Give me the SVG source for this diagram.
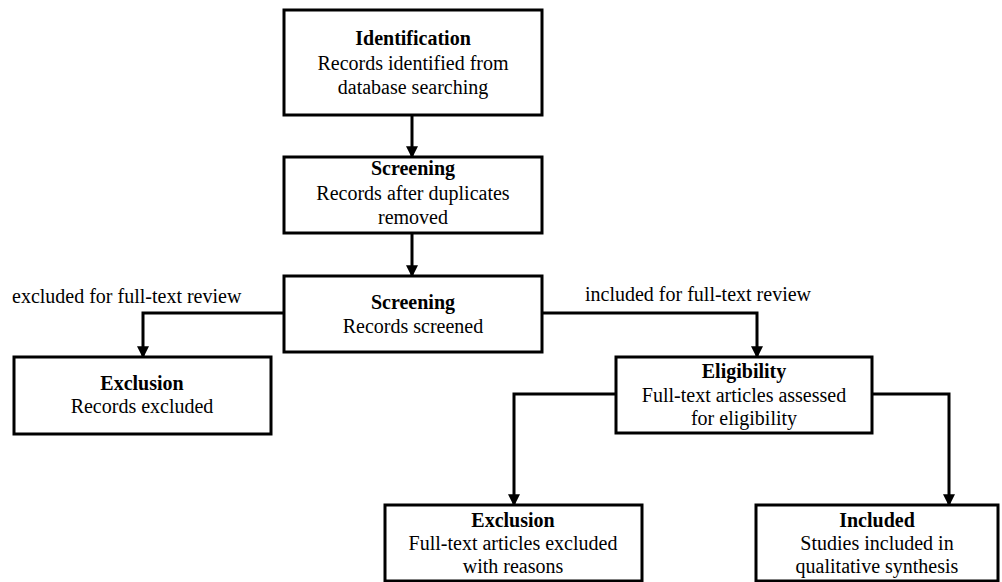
<svg xmlns="http://www.w3.org/2000/svg" width="1002" height="582" viewBox="0 0 1002 582">
<style>
.box{fill:#fff;stroke:#000;stroke-width:3}
.t{font-family:'Liberation Serif','DejaVu Serif',serif;font-size:20px;fill:#000;text-anchor:middle}
.b{font-weight:bold}
.lab{font-family:'Liberation Serif','DejaVu Serif',serif;font-size:20px;fill:#000}
.c{fill:none;stroke:#000;stroke-width:3}
</style>
<defs>
<marker id="ah" markerWidth="4" markerHeight="4" refX="3.6" refY="2" orient="auto" markerUnits="strokeWidth">
<path d="M0,0 L4,2 L0,4 Z" fill="#000"/>
</marker>
</defs>
<rect width="1002" height="582" fill="#fff"/>
<g id="connectors">
<path class="c" d="M412,115 V157" marker-end="url(#ah)"/>
<path class="c" d="M412,233 V276" marker-end="url(#ah)"/>
<path class="c" d="M284,313 H143 V357" marker-end="url(#ah)"/>
<path class="c" d="M542,313 H757 V357" marker-end="url(#ah)"/>
<path class="c" d="M616,394 H514 V505" marker-end="url(#ah)"/>
<path class="c" d="M872,394 H949 V505" marker-end="url(#ah)"/>
<text class="lab" x="12" y="303">excluded for full-text review</text>
<text class="lab" x="585" y="301">included for full-text review</text>
</g>
<g id="identification">
<rect class="box" x="284" y="10" width="258" height="105"/>
<text class="t b" x="413" y="45">Identification</text>
<text class="t" x="413" y="70">Records identified from</text>
<text class="t" x="413" y="94">database searching</text>
</g>
<g id="screening1">
<rect class="box" x="284" y="157" width="258" height="76"/>
<text class="t b" x="413" y="175">Screening</text>
<text class="t" x="413" y="200">Records after duplicates</text>
<text class="t" x="413" y="224">removed</text>
</g>
<g id="screening2">
<rect class="box" x="284" y="276" width="258" height="76"/>
<text class="t b" x="413" y="309">Screening</text>
<text class="t" x="413" y="333">Records screened</text>
</g>
<g id="exclusion1">
<rect class="box" x="14" y="357" width="257" height="77"/>
<text class="t b" x="142" y="390">Exclusion</text>
<text class="t" x="142" y="413">Records excluded</text>
</g>
<g id="eligibility">
<rect class="box" x="616" y="357" width="256" height="76"/>
<text class="t b" x="744" y="378">Eligibility</text>
<text class="t" x="744" y="402">Full-text articles assessed</text>
<text class="t" x="744" y="425">for eligibility</text>
</g>
<g id="exclusion2">
<rect class="box" x="385" y="505" width="257" height="76"/>
<text class="t b" x="513" y="527">Exclusion</text>
<text class="t" x="513" y="550">Full-text articles excluded</text>
<text class="t" x="513" y="573">with reasons</text>
</g>
<g id="included">
<rect class="box" x="756" y="505" width="242" height="76"/>
<text class="t b" x="877" y="527">Included</text>
<text class="t" x="877" y="550">Studies included in</text>
<text class="t" x="877" y="573">qualitative synthesis</text>
</g>
</svg>
